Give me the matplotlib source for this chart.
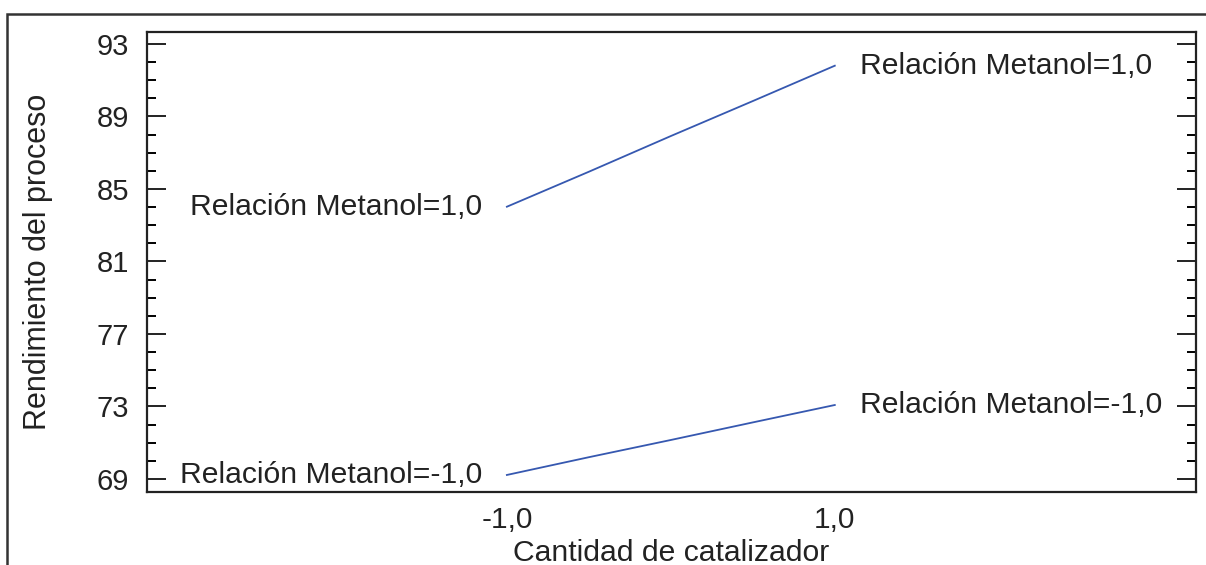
import matplotlib
matplotlib.use("Agg")
import matplotlib.pyplot as plt
from matplotlib.patches import Rectangle
from matplotlib.ticker import MultipleLocator, FixedLocator

plt.rcParams['font.family'] = ['Liberation Sans', 'DejaVu Sans']

x_vals = [-1.0, -0.5, 0.0, 0.5, 1.0]
upper = [84.02, 85.95, 87.92, 89.85, 91.80]
lower = [69.22, 70.20, 71.15, 72.12, 73.08]
x_ticks = [-1.0, 1.0]
x_tick_labels = ['-1,0', '1,0']
y_ticks = [69, 73, 77, 81, 85, 89, 93]
label_up = 'Relación Metanol=1,0'
label_low = 'Relación Metanol=-1,0'

W, H = 1206, 565
fig = plt.figure(figsize=(W / 100, H / 100), dpi=100)
ax = fig.add_axes([147 / W, 1 - 492 / H, (1195.5 - 147) / W, (492 - 32) / H])

# outer frame (cropped at right and bottom)
fig.patches.append(Rectangle((6.5 / W, -0.2), 1.5, 1.2 - 14 / H,
                             transform=fig.transFigure, fill=False,
                             edgecolor='#333333', linewidth=1.8))

color = '#3658b0'
ax.plot(x_vals, upper, color=color, lw=1.3)
ax.plot(x_vals, lower, color=color, lw=1.3)

fs = 21.7
for xs, ys, lab in [(x_vals, upper, label_up), (x_vals, lower, label_low)]:
    ax.annotate(lab, (xs[0], ys[0]), xytext=(-18, 0), textcoords='offset points',
                ha='right', va='center', fontsize=fs, color='#222222')
    ax.annotate(lab, (xs[-1], ys[-1]), xytext=(18, 0), textcoords='offset points',
                ha='left', va='center', fontsize=fs, color='#222222')

ax.set_xlim(-3.195, 3.2)
ax.set_ylim(68.28, 93.66)
ax.xaxis.set_major_locator(FixedLocator(x_ticks))
ax.set_xticklabels(x_tick_labels)
ax.yaxis.set_major_locator(FixedLocator(y_ticks))
ax.yaxis.set_minor_locator(MultipleLocator(1))

ax.tick_params(axis='y', which='major', direction='in', length=13.5, width=1.4,
               left=True, right=True, labelsize=21, pad=13, colors='#222222')
ax.tick_params(axis='y', which='minor', direction='in', length=6.5, width=1.4,
               left=True, right=True)
ax.tick_params(axis='x', which='both', length=0, labelsize=21.5, pad=10, colors='#222222')

for s in ax.spines.values():
    s.set_linewidth(1.6)
    s.set_color('#222222')

ax.set_xlabel('Cantidad de catalizador', fontsize=21.7, labelpad=4, color='#222222')
ax.set_ylabel('Rendimiento del proceso', fontsize=22, labelpad=31, color='#222222')

fig.savefig('out.png', dpi=100)
